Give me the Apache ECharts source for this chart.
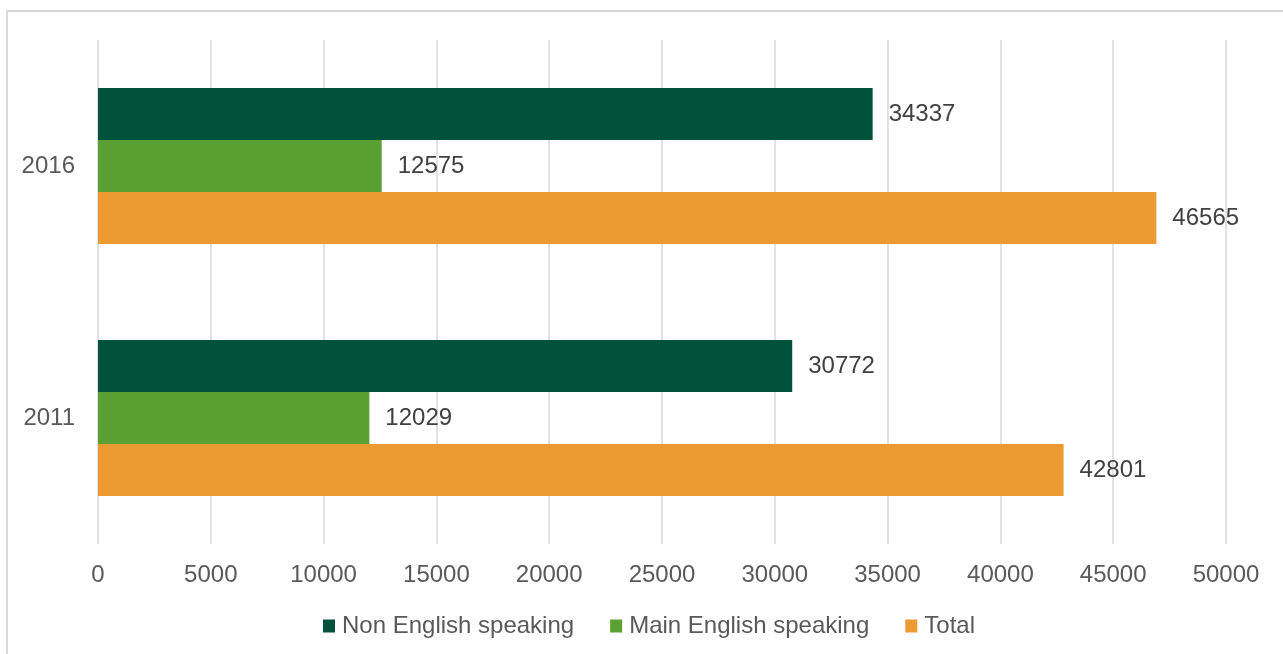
<!DOCTYPE html>
<html>
<head>
<meta charset="utf-8">
<script src="https://cdn.jsdelivr.net/npm/echarts@6/dist/echarts.min.js"></script>
<style>
  * { margin: 0; padding: 0; }
  html, body { width: 1283px; height: 654px; background: #fff; overflow: hidden; }
  #chart { width: 1283px; height: 654px; }
</style>
</head>
<body>
<div id="chart"></div>
<script>
// data
var years = ['2011', '2016']
var nonEnglish = [30772, 34337]
var mainEnglish = [12029, 12575]
// the 2016 total bar is drawn longer than its printed label
var totalBar = [42801, 46912]
var totalLabel = [42801, 46565]
var xTicks = [0, 5000, 10000, 15000, 20000, 25000, 30000, 35000, 40000, 45000, 50000]

var font = 'Liberation Sans, Arial, sans-serif'

var barLabel = {
  show: true,
  position: 'right',
  distance: 16,
  color: '#404040',
  fontSize: 24,
  fontFamily: font
}

var option = {
  animation: false,
  textStyle: { fontFamily: font },
  graphic: [{
    type: 'rect',
    shape: { x: 7, y: 11, width: 1400, height: 700 },
    style: { fill: 'none', stroke: '#d9d9d9', lineWidth: 2 },
    silent: true
  }],
  grid: {
    left: 98,
    right: 57,
    top: 40,
    bottom: 110
  },
  legend: {
    left: 318,
    top: 609,
    itemWidth: 12,
    itemHeight: 13,
    itemGap: 36,
    icon: 'rect',
    data: ['Non English speaking', 'Main English speaking', 'Total'],
    textStyle: { color: '#595959', fontSize: 24, fontFamily: font, padding: [0, 0, 0, 2] }
  },
  xAxis: {
    type: 'value',
    min: xTicks[0],
    max: xTicks[xTicks.length - 1],
    interval: 5000,
    axisLine: { show: false },
    axisTick: { show: false },
    splitLine: { show: true, lineStyle: { color: '#d9d9d9', width: 1.5 } },
    axisLabel: {
      color: '#595959', fontSize: 24, fontFamily: font, margin: 19,
      formatter: function (v) { return String(v) }
    }
  },
  yAxis: {
    type: 'category',
    data: years,
    axisLine: { show: false },
    axisTick: { show: false },
    axisLabel: { color: '#595959', fontSize: 24, fontFamily: font, margin: 23 }
  },
  series: [
    {
      name: 'Non English speaking',
      type: 'bar',
      data: nonEnglish,
      barWidth: 52,
      barGap: '0%',
      itemStyle: { color: '#00533a' },
      label: barLabel
    },
    {
      name: 'Main English speaking',
      type: 'bar',
      data: mainEnglish,
      barWidth: 52,
      barGap: '0%',
      itemStyle: { color: '#5aa032' },
      label: barLabel
    },
    {
      name: 'Total',
      type: 'bar',
      data: totalBar,
      barWidth: 52,
      barGap: '0%',
      itemStyle: { color: '#ec9a32' },
      label: Object.assign({}, barLabel, {
        formatter: function (p) { return String(totalLabel[p.dataIndex]) }
      })
    }
  ]
}

var chart = echarts.init(document.getElementById('chart'))
chart.setOption(option)
</script>
</body>
</html>
